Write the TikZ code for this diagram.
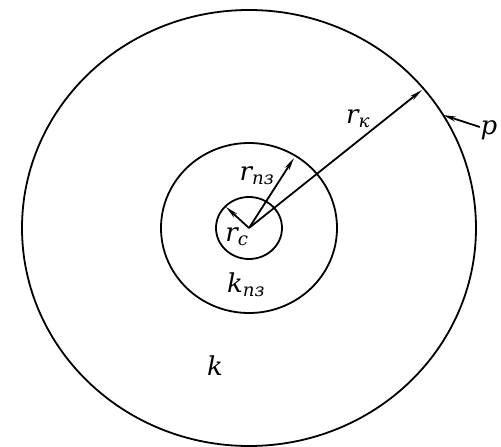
\documentclass[tikz,border=0pt]{standalone}
\usepackage{fontspec}
\setmainfont{DejaVu Serif}
\usepackage{tikz}
\usetikzlibrary{arrows.meta}

\newcommand{\lab}[2]{#1\textsubscript{#2}}

\begin{document}
\begin{tikzpicture}[x=1pt,y=-1pt,>={Stealth[length=13pt,width=5pt]},line width=1.8pt,
        lbl/.style={inner sep=0pt,font=\fontsize{26}{30}\selectfont\itshape}]
        \useasboundingbox (0,0) rectangle (501,447);
        \coordinate (o) at (249,228);
        \draw (o) ellipse [x radius=227,y radius=218];
        \draw (o) ellipse [x radius=88,y radius=85];
        \draw (o) ellipse [x radius=33,y radius=31];
        \coordinate (rk) at (422,90);
        \coordinate (rpz) at (294,158);
        \coordinate (rc) at (226,207);
        \coordinate (pin) at (443,115);
        \node[lbl] (p) at (489,130) {p};
        \node[lbl] (lrk) at (358,119) {\lab{r}{к}};
        \node[lbl] (lrpz) at (257,176) {\lab{r}{пз}};
        \node[lbl] (lrc) at (237,237) {\lab{r}{с}};
        \node[lbl] (lkpz) at (246,285) {\lab{k}{пз}};
        \node[lbl] (lk) at (215,366) {k};
        \path[->] (o) edge (rk);
        \path[->] (o) edge (rpz);
        \path[->] (o) edge (rc);
        \path[->] (p) edge (pin);
    \end{tikzpicture}
\end{document}
